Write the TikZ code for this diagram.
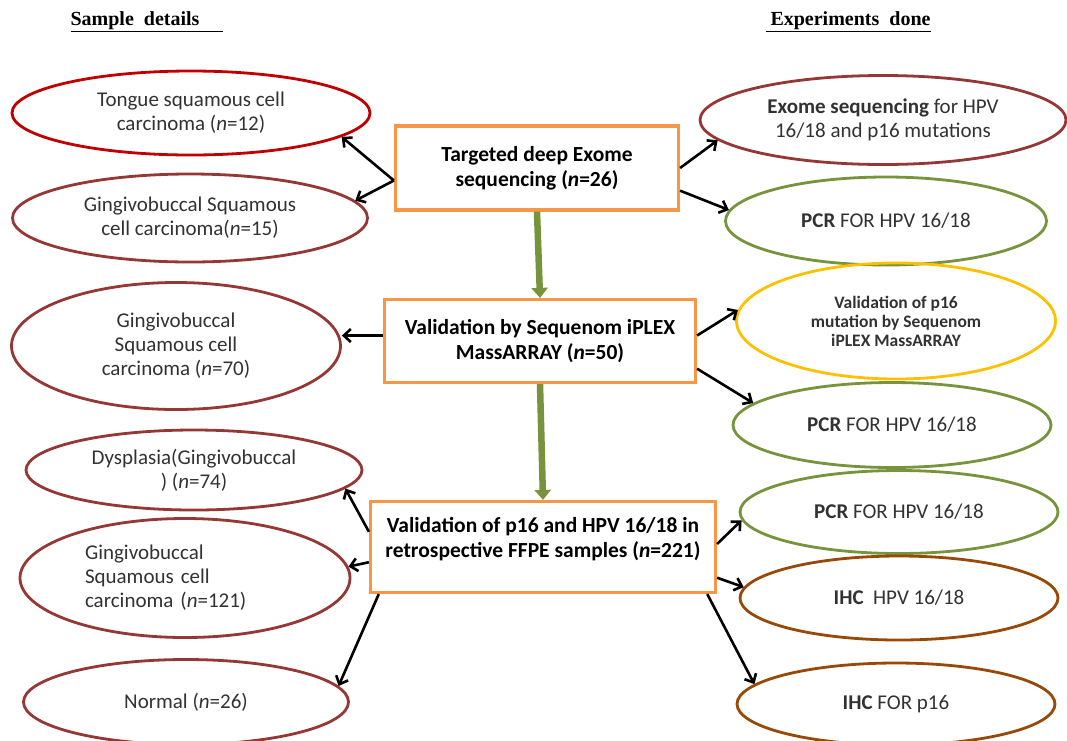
\documentclass[tikz,border=0pt]{standalone}
\usepackage{fontspec}
\setmainfont{Carlito}
\newfontfamily\headfont{Liberation Serif}
\usetikzlibrary{arrows, arrows.meta, shapes.geometric}

\definecolor{samplered}{RGB}{149,55,53}
\definecolor{tonguered}{RGB}{192,0,0}
\definecolor{pcrgreen}{RGB}{119,147,60}
\definecolor{valyellow}{RGB}{255,192,0}
\definecolor{ihcbrown}{RGB}{152,72,7}
\definecolor{stageorange}{RGB}{247,150,70}
\definecolor{textgrey}{RGB}{50,50,50}

\tikzset{
  oval/.style={ellipse, draw=#1, line width=2.8pt, inner sep=0pt, align=center, text=textgrey, font=\fontsize{21}{24}\selectfont},
  stage/.style={rectangle, draw=stageorange, line width=3.2pt, fill=white, align=center, font=\bfseries\fontsize{21.5}{25}\selectfont},
  link/.style={-{Straight Barb[length=7pt,width=13pt]}, line width=2.6pt},
  flow/.style={-{Triangle[width=16pt,length=10pt]}, draw=pcrgreen, line width=6.5pt},
  heading/.style={font=\headfont\bfseries\fontsize{20}{22}\selectfont}
}

\begin{document}
\begin{tikzpicture}[x=1pt, y=-1pt]
\useasboundingbox (0,0) rectangle (1067,740);

\node[heading] (samplehead) at (147,22) {\underline{Sample\ \ details\hspace{24pt}}};
\node[heading] (expthead) at (848,22) {\underline{\ Experiments\ \ done}};

\node[stage, minimum width=283, minimum height=84] (exseq) at (537,168) {Targeted deep Exome\\sequencing (\textit{n}=26)};
\node[stage, minimum width=311, minimum height=83] (sequenom) at (540,341) {Validation by Sequenom iPLEX\\MassARRAY (\textit{n}=50)};
\node[stage, minimum width=345, minimum height=91] (ffpe) at (543,547) {Validation of p16 and HPV 16/18 in\\retrospective FFPE samples (\textit{n}=221)\\[-6pt]~};

\node[oval=tonguered, minimum width=358, minimum height=84] (tongue) at (191,113) {Tongue squamous cell\\carcinoma (\textit{n}=12)};
\node[oval=samplered, minimum width=355, minimum height=88] (gb15) at (190,218) {Gingivobuccal Squamous\\cell carcinoma(\textit{n}=15)};
\node[oval=samplered, minimum width=329, minimum height=127] (gb70) at (176,346) {Gingivobuccal\\Squamous cell\\carcinoma (\textit{n}=70)};
\node[oval=samplered, minimum width=336, minimum height=80] (dys) at (194,470) {Dysplasia(Gingivobuccal\\) (\textit{n}=74)};
\node[oval=samplered, minimum width=330, minimum height=119, text width=200, align=left] (gb121) at (185,578) {Gingivobuccal\\Squamous cell\\carcinoma (\textit{n}=121)};
\node[oval=samplered, minimum width=325, minimum height=85] (normal) at (186,702) {Normal (\textit{n}=26)};

\node[oval=samplered, minimum width=366, minimum height=89] (exome) at (883,120) {\textbf{Exome sequencing} for HPV\\16/18 and p16 mutations};
\node[oval=pcrgreen, minimum width=321, minimum height=88] (pcra) at (886,221) {\textbf{PCR} FOR HPV 16/18};
\node[oval=valyellow, minimum width=319, minimum height=116, font=\bfseries\fontsize{17.5}{19}\selectfont] (valp16) at (896,321) {Validation of p16\\mutation by Sequenom\\iPLEX MassARRAY};
\node[oval=pcrgreen, minimum width=318, minimum height=85] (pcrb) at (892,425) {\textbf{PCR} FOR HPV 16/18};
\node[oval=pcrgreen, minimum width=318, minimum height=83] (pcrc) at (899,512) {\textbf{PCR} FOR HPV 16/18};
\node[oval=ihcbrown, minimum width=318, minimum height=84] (ihchpv) at (899,598) {\textbf{IHC}\ \ HPV 16/18};
\node[oval=ihcbrown, minimum width=318, minimum height=82] (ihcp16) at (896,704) {\textbf{IHC} FOR p16};

\draw[flow] (exseq.south) -- (sequenom.north);
\draw[flow] (sequenom.south) -- (ffpe.north);

\draw[link] (exseq.185) -- (tongue.-9);
\draw[link] (exseq.185) -- (gb15.6);
\draw[link] (exseq.0) -- (exome.187);
\draw[link] (exseq.-9) -- (pcra.176);

\draw[link] (sequenom.178) -- (sequenom.178 -| gb70.east);
\draw[link] (sequenom.2) -- (valp16.176);
\draw[link] (sequenom.-10) -- (pcrb.171);

\draw[link] (ffpe.175) -- (dys.-7);
\draw[link] (ffpe.185) -- (gb121.4);
\draw[link] (ffpe.196) -- (normal.6);
\draw[link] (ffpe.1) -- (pcrc.183);
\draw[link] (ffpe.-10) -- (ihchpv.176);
\draw[link] (ffpe.-16) -- (ihcp16.172);

\end{tikzpicture}
\end{document}
